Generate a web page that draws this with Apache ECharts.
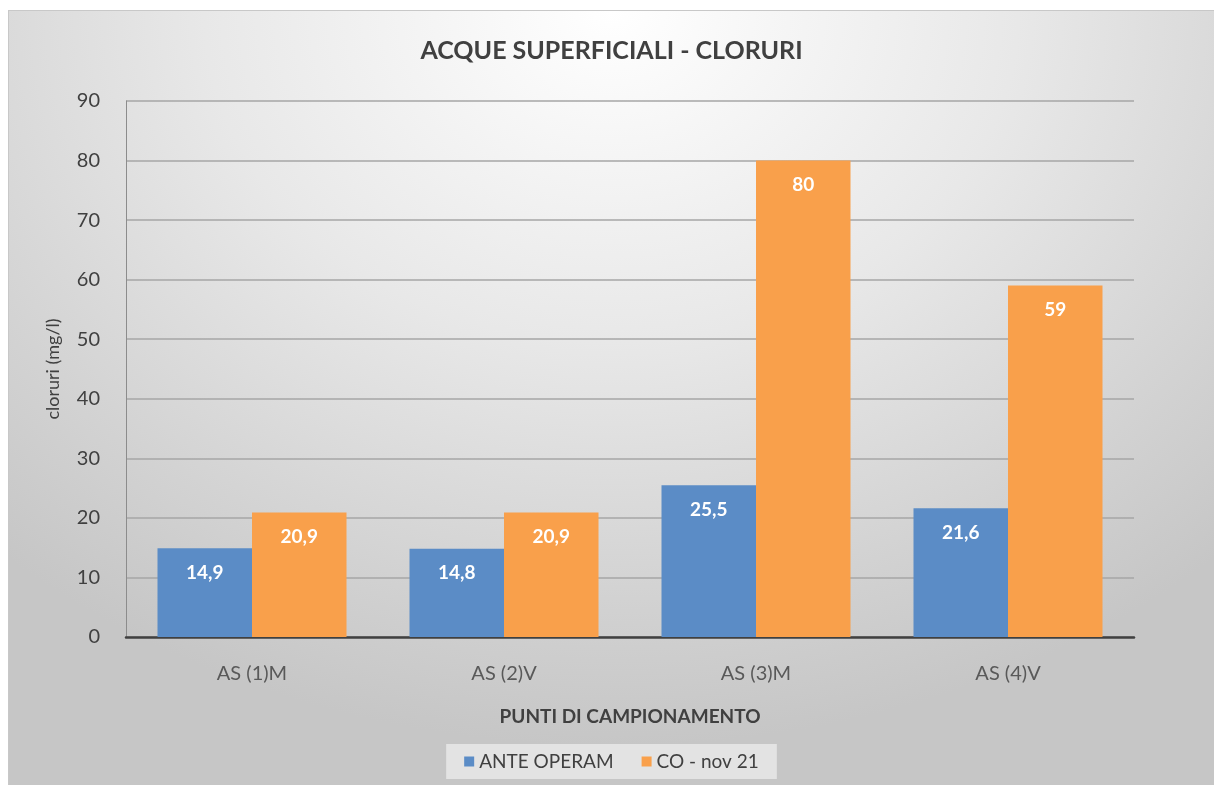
<!DOCTYPE html>
<html><head><meta charset="utf-8">
<script src="https://cdn.jsdelivr.net/npm/echarts@6/dist/echarts.min.js"></script>
<style>
html,body{margin:0;padding:0;background:#fff;width:1214px;height:785px;overflow:hidden;}
#chart{position:absolute;left:8px;top:10px;width:1206px;height:775px;
background:radial-gradient(ellipse 75% 95% at 50% 0%, #ffffff 0%, #e8e8e8 45%, #d2d2d2 80%, #c6c6c6 100%);
border-top:1px solid #c8c8c8;border-left:1px solid #c8c8c8;box-sizing:border-box;}
</style></head>
<body><div id="chart"></div>
<script>
const categories = ['AS (1)M','AS (2)V','AS (3)M','AS (4)V'];
const anteOperam = [14.9, 14.8, 25.5, 21.6];
const coNov21 = [20.9, 20.9, 80, 59];
const seriesNames = ['ANTE OPERAM','CO - nov 21'];
const yTicks = {min:0, max:90, interval:10};

const font = 'Lato, "Open Sans", sans-serif';
const chart = echarts.init(document.getElementById('chart'), null, {renderer:'canvas'});
const fmt = p => String(p.value).replace('.', ',');
const labelCfg = {show:true, position:'insideTop', distance:15, color:'#ffffff', fontWeight:'bold', fontSize:19, fontFamily:font, formatter:fmt};
chart.setOption({
  backgroundColor:'transparent',
  animation:false,
  title:{text:'ACQUE SUPERFICIALI - CLORURI', left:'center', top:22,
    textStyle:{fontFamily:font, fontWeight:'bold', fontSize:25, color:'#404040'}},
  grid:{left:117, right:80, top:90, bottom:148},
  xAxis:{type:'category', data:categories,
    name:'PUNTI DI CAMPIONAMENTO', nameLocation:'middle', nameGap:70,
    nameTextStyle:{fontFamily:font, fontWeight:'bold', fontSize:19, color:'#404040'},
    axisLine:{lineStyle:{color:'#404040', width:2.5}},
    axisTick:{show:false},
    axisLabel:{fontFamily:font, fontSize:20, color:'#595959', margin:27}},
  yAxis:{type:'value', min:yTicks.min, max:yTicks.max, interval:yTicks.interval,
    name:'cloruri (mg/l)', nameLocation:'middle', nameGap:64, nameRotate:90,
    nameTextStyle:{fontFamily:font, fontSize:18, color:'#404040'},
    axisLine:{show:true, lineStyle:{color:'#8c8c8c', width:1}},
    axisTick:{show:false},
    axisLabel:{fontFamily:font, fontSize:20, color:'#404040', margin:26},
    splitLine:{lineStyle:{color:'#a6a6a6', width:1.5}}},
  legend:{bottom:6, left:'center', backgroundColor:'#e3e3e3', padding:[8,18,8,18],
    itemWidth:10, itemHeight:10, icon:'rect', itemGap:28,
    textStyle:{fontFamily:font, fontSize:19, color:'#404040'},
    data:seriesNames},
  series:[
    {name:seriesNames[0], type:'bar', data:anteOperam, barGap:'0%', barCategoryGap:'25%',
     itemStyle:{color:'#5b8cc6'}, label:labelCfg},
    {name:seriesNames[1], type:'bar', data:coNov21, barGap:'0%', barCategoryGap:'25%',
     itemStyle:{color:'#f9a04b'}, label:labelCfg}
  ]
});
</script></body></html>
